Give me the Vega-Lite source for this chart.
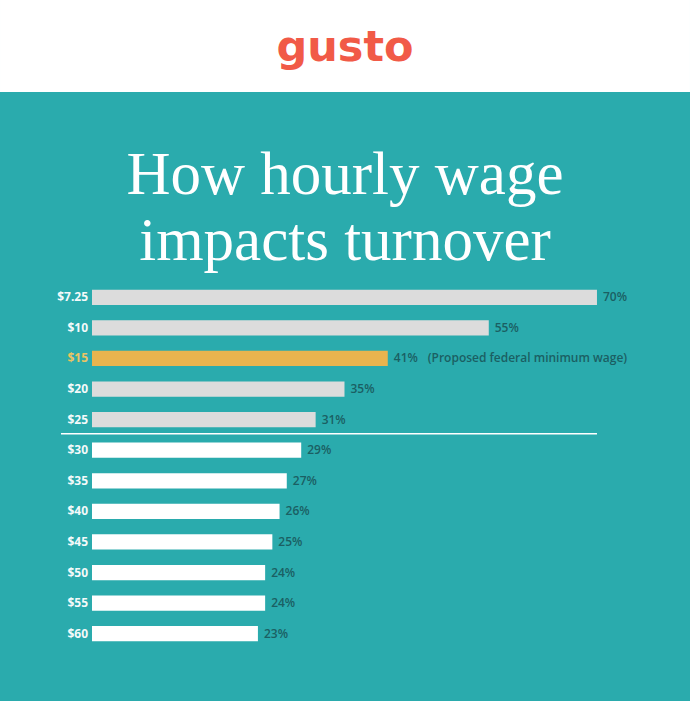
{
  "$schema": "https://vega.github.io/schema/vega-lite/v6.json",
  "background": "#2AABAD",
  "padding": {"left": 0, "right": 0, "top": 0, "bottom": 52.65},
  "spacing": 53,
  "config": {"view": {"stroke": null}},
  "vconcat": [
    {
      "width": 690,
      "height": 92,
      "view": {"fill": "#FFFFFF", "stroke": null},
      "data": {"values": [{"brand": "gusto"}]},
      "mark": {"type": "text", "font": "DejaVu Sans", "fontWeight": "bold", "fontSize": 43, "color": "#F15A47", "baseline": "alphabetic", "align": "center", "dy": 15},
      "encoding": {"text": {"field": "brand"}}
    },
    {
      "width": 690,
      "height": 367,
      "title": {
        "text": ["How hourly wage", "impacts turnover"],
        "font": "Liberation Serif",
        "fontSize": 61,
        "lineHeight": 66,
        "color": "#FFFFFF",
        "fontWeight": "normal",
        "anchor": "middle",
        "frame": "group",
        "offset": 9
      },
      "data": {
        "values": [
          {"wage": "$7.25", "pct": 0.70, "group": "under"},
          {"wage": "$10", "pct": 0.55, "group": "under"},
          {"wage": "$15", "pct": 0.41, "group": "proposed", "note": "(Proposed federal minimum wage)"},
          {"wage": "$20", "pct": 0.35, "group": "under"},
          {"wage": "$25", "pct": 0.31, "group": "under"},
          {"wage": "$30", "pct": 0.29, "group": "over"},
          {"wage": "$35", "pct": 0.27, "group": "over"},
          {"wage": "$40", "pct": 0.26, "group": "over"},
          {"wage": "$45", "pct": 0.25, "group": "over"},
          {"wage": "$50", "pct": 0.24, "group": "over"},
          {"wage": "$55", "pct": 0.24, "group": "over"},
          {"wage": "$60", "pct": 0.23, "group": "over"}
        ]
      },
      "encoding": {
        "y": {"field": "wage", "type": "nominal", "sort": null, "axis": null, "scale": {"paddingInner": 0.5, "paddingOuter": 0.25}}
      },
      "layer": [
        {
          "mark": {"type": "bar"},
          "encoding": {
            "x": {"field": "pct", "type": "quantitative", "axis": null, "scale": {"domain": [-0.12753, 0.82894], "nice": false, "zero": false}},
            "x2": {"datum": 0},
            "color": {"field": "group", "type": "nominal", "legend": null, "scale": {"domain": ["under", "proposed", "over"], "range": ["#DCDCDC", "#E8B44E", "#FFFFFF"]}}
          }
        },
        {
          "mark": {"type": "text", "align": "right", "baseline": "middle", "dx": -4, "font": "Open Sans", "fontWeight": "bold", "fontSize": 12},
          "encoding": {
            "x": {"datum": 0, "type": "quantitative"},
            "text": {"field": "wage"},
            "color": {"condition": {"test": "datum.group === 'proposed'", "value": "#EBC463"}, "value": "#F4FAFA"}
          }
        },
        {
          "mark": {"type": "text", "align": "left", "baseline": "middle", "dx": 6, "font": "Open Sans", "fontWeight": 600, "fontSize": 12, "color": "#1B5F63"},
          "encoding": {
            "x": {"field": "pct", "type": "quantitative"},
            "text": {"field": "pct", "type": "quantitative", "format": ".0%"}
          }
        },
        {
          "transform": [{"filter": "isValid(datum.note)"}],
          "mark": {"type": "text", "align": "left", "baseline": "middle", "dx": 40, "font": "Open Sans", "fontWeight": 600, "fontSize": 12, "color": "#1B5F63"},
          "encoding": {
            "x": {"field": "pct", "type": "quantitative"},
            "text": {"field": "note"}
          }
        },
        {
          "transform": [{"filter": "datum.wage === '$30'"}],
          "mark": {"type": "rule", "color": "#FFFFFF", "strokeWidth": 1.5, "yOffset": -16.5},
          "encoding": {
            "x": {"datum": -0.043, "type": "quantitative"},
            "x2": {"datum": 0.70}
          }
        }
      ]
    }
  ]
}
